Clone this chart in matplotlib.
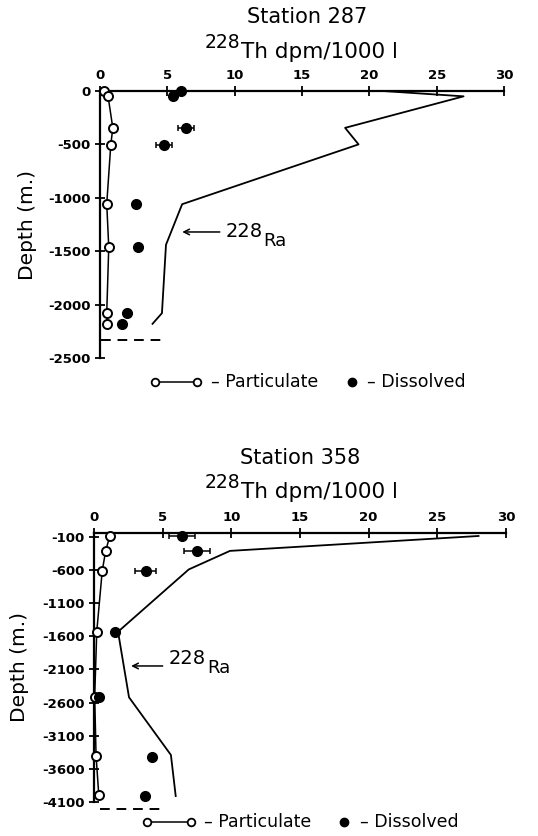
import matplotlib
matplotlib.use("Agg")
import matplotlib.pyplot as plt
from matplotlib.lines import Line2D

# ---------------- data ----------------
# Station 287
p287_depth = [0, -50, -346, -506, -1058, -1461, -2079, -2181]
p287_val = [0.3, 0.6, 0.95, 0.8, 0.5, 0.65, 0.5, 0.5]
d287_depth = [0, -50, -346, -506, -1058, -1461, -2079, -2181]
d287_val = [6.0, 5.4, 6.4, 4.75, 2.7, 2.8, 2.0, 1.6]
d287_err = [0, 0, 0.6, 0.6, 0, 0, 0, 0]
ra287_depth = [0, -50, -345, -500, -1060, -1440, -2080, -2180]
ra287_val = [21.0, 27.0, 18.2, 19.2, 6.1, 4.9, 4.6, 3.9]
bottom287 = -2330
bottom287_x = [0.1, 4.8]
yticks287 = [0, -500, -1000, -1500, -2000, -2500]

# Station 358
p358_depth = [-85, -310, -610, -1530, -2510, -3400, -4000]
p358_val = [1.15, 0.85, 0.6, 0.2, 0.05, 0.15, 0.35]
d358_depth = [-85, -310, -610, -1530, -2510, -3420, -4010]
d358_val = [6.4, 7.5, 3.75, 1.5, 0.35, 4.2, 3.7]
d358_err = [0.95, 0.95, 0.75, 0, 0, 0, 0]
ra358_depth = [-85, -310, -590, -1530, -2520, -3390, -4010]
ra358_val = [28.0, 9.9, 6.9, 1.75, 2.55, 5.6, 5.95]
bottom358 = -4206
bottom358_x = [0.45, 5.1]
yticks358 = [-100, -600, -1100, -1600, -2100, -2600, -3100, -3600, -4100]

xticks = [0, 5, 10, 15, 20, 25, 30]

W, H = 538, 836
fig = plt.figure(figsize=(W / 100, H / 100), dpi=100)


def fx(x):
    return x / W


def fy(y):
    return 1 - y / H


def setup_axes(rect, ylim, yticks):
    ax = fig.add_axes(rect)
    ax.set_xlim(0, 30)
    ax.set_ylim(*ylim)
    ax.xaxis.tick_top()
    ax.set_xticks(xticks)
    ax.set_yticks(yticks)
    ax.set_yticklabels([str(v) for v in yticks])
    for s in ["bottom", "right"]:
        ax.spines[s].set_visible(False)
    for s in ["top", "left"]:
        ax.spines[s].set_linewidth(1.6)
    ax.tick_params(direction="inout", length=7, width=1.3, labelsize=9.5, pad=3)
    for lab in ax.get_xticklabels() + ax.get_yticklabels():
        lab.set_fontweight("bold")
    ax.patch.set_alpha(0)
    return ax


def draw_panel(ax, pdep, pval, ddep, dval, derr, rdep, rval, bdep, bx):
    ax.plot(rval, rdep, color="black", lw=1.3, zorder=2, clip_on=False)
    ax.plot(pval, pdep, color="black", lw=1.1, marker="o", ms=6.5,
            mfc="white", mec="black", mew=1.4, zorder=3, clip_on=False)
    ax.errorbar(dval, ddep, xerr=derr,
                fmt="o", color="black", ms=7, elinewidth=1.1, capsize=2.5,
                capthick=1.1, zorder=3, clip_on=False)
    ax.plot(bx, [bdep, bdep], color="black", lw=1.4, ls=(0, (5, 3.5)),
            clip_on=False)


# ---------------- Station 287 ----------------
ax1 = setup_axes([fx(100), fy(358), fx(504) - fx(100), fy(91) - fy(358)],
                 (-2500, 0), yticks287)
draw_panel(ax1, p287_depth, p287_val, d287_depth, d287_val, d287_err,
           ra287_depth, ra287_val, bottom287, bottom287_x)
ax1.annotate("", xy=(5.9, -1320), xytext=(9.1, -1320),
             arrowprops=dict(arrowstyle="->", lw=1.1, color="black"))
ax1.text(9.3, -1320, "228", fontsize=14, va="center", ha="left")
ax1.text(12.1, -1400, "Ra", fontsize=13, va="center", ha="left")
ax1.text(-0.18, 0.5, "Depth (m.)", rotation=90, transform=ax1.transAxes,
         fontsize=14.5, ha="center", va="center")

fig.text(fx(307), fy(17), "Station 287", fontsize=15, ha="center", va="center")
fig.text(fx(240), fy(43), "228", fontsize=13.5, ha="right", va="center")
fig.text(fx(241), fy(52), "Th dpm/1000 l", fontsize=15.5, ha="left", va="center")

# ---------------- Station 358 ----------------
ax2 = setup_axes([fx(94), fy(802), fx(506) - fx(94), fy(533) - fy(802)],
                 (-4100, -40), yticks358)
draw_panel(ax2, p358_depth, p358_val, d358_depth, d358_val, d358_err,
           ra358_depth, ra358_val, bottom358, bottom358_x)
ax2.annotate("", xy=(2.5, -2047), xytext=(5.2, -2047),
             arrowprops=dict(arrowstyle="->", lw=1.1, color="black"))
ax2.text(5.4, -1927, "228", fontsize=14, va="center", ha="left")
ax2.text(8.25, -2080, "Ra", fontsize=13, va="center", ha="left")
ax2.text(-0.18, 0.5, "Depth (m.)", rotation=90, transform=ax2.transAxes,
         fontsize=14.5, ha="center", va="center")

fig.text(fx(300), fy(458), "Station 358", fontsize=15, ha="center", va="center")
fig.text(fx(240), fy(483), "228", fontsize=13.5, ha="right", va="center")
fig.text(fx(241), fy(492), "Th dpm/1000 l", fontsize=15.5, ha="left", va="center")


# ---------------- legends ----------------
def legend(y, x1, x2, xt1, xd, xt2):
    fig.add_artist(Line2D([fx(x1), fx(x2)], [fy(y), fy(y)], color="black",
                          lw=1.1, marker="o", ms=5.5, mfc="white", mec="black",
                          mew=1.3, transform=fig.transFigure))
    fig.text(fx(xt1), fy(y), "\u2013 Particulate", fontsize=12.5, ha="left",
             va="center")
    fig.add_artist(Line2D([fx(xd)], [fy(y)], color="black", lw=0, marker="o",
                          ms=6, transform=fig.transFigure))
    fig.text(fx(xt2), fy(y), "\u2013 Dissolved", fontsize=12.5, ha="left",
             va="center")


legend(382, 155, 197, 211, 352, 367)
legend(822, 147, 191, 204, 344, 360)

fig.savefig("out.png", dpi=100)
